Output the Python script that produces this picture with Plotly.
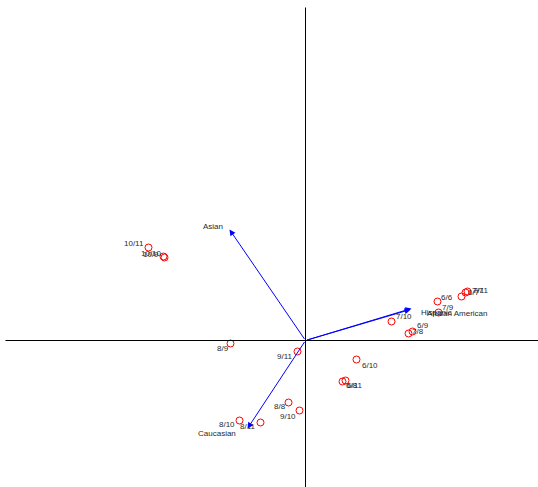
import plotly.graph_objects as go

# Observation scores (first two components) with their labels
obs_labels = ["10/11", "10/10", "10/9", "8/9", "9/11", "6/10", "6/8", "6/11",
              "8/8", "9/10", "8/10", "8/11", "7/10", "7/8", "6/9", "6/6",
              "7/9", "6/7", "7/7", "7/11"]
obs_x = [-1.57, -1.42, -1.41, -0.75, -0.08, 0.51, 0.37, 0.40,
         -0.17, -0.06, -0.66, -0.45, 0.86, 1.03, 1.07, 1.32,
         1.33, 1.56, 1.60, 1.62]
obs_y = [0.93, 0.84, 0.83, -0.03, -0.11, -0.19, -0.41, -0.40,
         -0.62, -0.70, -0.80, -0.82, 0.19, 0.07, 0.09, 0.39,
         0.28, 0.44, 0.48, 0.49]
# label offsets in pixels (dx right, dy down)
lab_dx = [-15, -12, -14, -8, -13, 13, 9, 9, -9, -12, -13, -13, 12, 9, 10, 9, 9, 12, 12, 13]
lab_dy = [-4, -3, -3, 5, 5, 6, 4, 5, 4, 6, 4, 4, -5, -2, -6, -4, -5, -4, -2, -1]

# Variable loadings
var_labels = ["Asian", "Caucasian", "Hispanic", "African American"]
var_x = [-0.76, -0.58, 1.06, 1.05]
var_y = [1.11, -0.88, 0.32, 0.31]
var_dx = [-17, -31, 25, 46]
var_dy = [-3, 5, 4, 4]

label_font = dict(family="Liberation Sans, Arial", size=8, color="#2a2a2a")

fig = go.Figure()

fig.add_trace(go.Scatter(
    x=obs_x, y=obs_y, mode="markers",
    marker=dict(symbol="circle-open", size=7, color="#ff0000",
                line=dict(width=1, color="#ff0000")),
    hoverinfo="text", text=obs_labels, showlegend=False,
))

annotations = []
for lab, x, y, dx, dy in zip(obs_labels, obs_x, obs_y, lab_dx, lab_dy):
    annotations.append(dict(
        x=x, y=y, text=lab, showarrow=False, xshift=dx, yshift=-dy,
        xanchor="center", yanchor="middle", font=label_font,
    ))

for lab, x, y, dx, dy in zip(var_labels, var_x, var_y, var_dx, var_dy):
    annotations.append(dict(
        x=x, y=y, ax=0, ay=0, axref="x", ayref="y", xref="x", yref="y",
        text="", showarrow=True, arrowhead=2, arrowsize=1.2, arrowwidth=1,
        arrowcolor="#0000ff", standoff=0, startstandoff=0,
    ))
    annotations.append(dict(
        x=x, y=y, text=lab, showarrow=False, xshift=dx, yshift=-dy,
        xanchor="center", yanchor="middle", font=label_font,
    ))

# Reference axes through the origin
shapes = [
    dict(type="line", xref="x", yref="y", x0=-3.00, x1=2.40, y0=0, y1=0,
         line=dict(color="black", width=1)),
    dict(type="line", xref="x", yref="y", x0=0, x1=0, y0=3.33, y1=-1.50,
         line=dict(color="black", width=1)),
]

fig.update_layout(
    width=538, height=487,
    margin=dict(l=0, r=0, t=0, b=0),
    paper_bgcolor="white", plot_bgcolor="white",
    xaxis=dict(range=[-3.055, 2.325], visible=False, fixedrange=True),
    yaxis=dict(range=[-1.465, 3.405], visible=False, fixedrange=True),
    annotations=annotations, shapes=shapes,
)

fig.write_html("out.html")
